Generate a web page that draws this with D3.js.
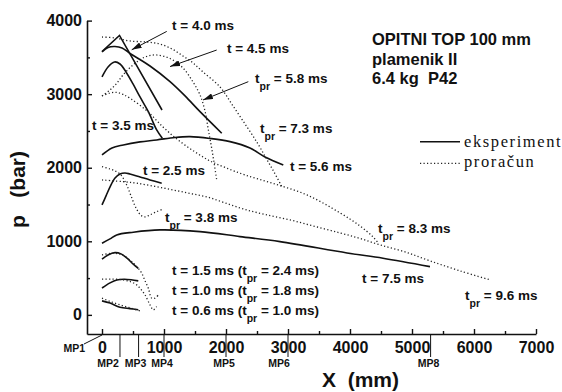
<!DOCTYPE html>
<html>
<head>
<meta charset="utf-8">
<script src="https://cdnjs.cloudflare.com/ajax/libs/d3/7.8.5/d3.min.js"></script>
<style>
  body { margin: 0; background: #fff; }
  svg text { font-family: "Liberation Sans", Arial, sans-serif; font-weight: bold; fill: #111; }
  .lbl { font-size: 13.5px; }
  .axis text { font-size: 16px; }
  .mp { font-size: 10.5px; }
  .legend text { font-family: "Liberation Serif", "Times New Roman", serif; font-weight: normal; font-size: 16.5px; letter-spacing: 1.6px; }
</style>
</head>
<body>
<div id="my_chart"></div>
<script>
// pressure p (bar) along the barrel X (mm)
// eksperiment (measured)
var eksp_06 = [[0,190],[130,160],[290,105],[450,85],[585,70]];
var eksp_10 = [[0,365],[130,435],[240,475],[355,485],[470,478],[585,462]];
var eksp_15 = [[0,757],[97,815],[210,846],[306,829],[403,770],[500,693],[585,632]];
var eksp_25 = [[0,1495],[65,1617],[130,1740],[210,1860],[290,1916],[370,1929],[450,1916],[613,1875],[774,1834],[963,1789]];
var eksp_35 = [[0,3234],[97,3370],[202,3438],[290,3410],[387,3302],[500,3139],[613,2962],[747,2762],[882,2514],[973,2401]];
var eksp_40 = [[0,3580],[282,3798],[968,2785]];
var eksp_45 = [[0,3573],[97,3635],[210,3648],[323,3628],[452,3553],[774,3383],[1097,3170],[1339,2976],[1581,2762],[1931,2469]];
var eksp_56 = [[0,2174],[161,2269],[344,2310],[613,2351],[882,2378],[1177,2412],[1419,2423],[1742,2398],[2065,2355],[2387,2269],[2629,2147],[2924,2038]];
var eksp_75 = [[0,974],[129,1033],[237,1087],[505,1124],[935,1155],[1581,1132],[2226,1064],[2871,996],[3952,842],[4532,770],[5290,656]];

// proracun (computed)
var pror_10 = [[0,227],[129,183],[290,136],[452,95],[613,54]];
var pror_18 = [[0,485],[161,486],[344,476],[468,448],[560,408],[629,346],[694,272],[774,136],[827,68],[882,113]];
var pror_24 = [[0,815],[182,838],[323,815],[479,724],[565,652],[640,567],[694,462],[747,363],[802,227],[855,227],[908,272]];
var pror_38 = [[0,2015],[129,1984],[226,1950],[306,1902],[398,1766],[468,1617],[548,1454],[629,1352],[694,1332],[774,1359],[871,1399],[968,1433]];
var pror_58 = [[0,2976],[129,3057],[242,3152],[339,3261],[500,3397],[694,3505],[871,3533],[1097,3485],[1306,3356],[1468,3166],[1581,2989],[1661,2772],[1718,2500],[1774,2242],[1850,1834]];
var pror_73 = [[0,3777],[210,3764],[452,3723],[726,3709],[935,3682],[1129,3614],[1306,3519],[1468,3424],[1629,3302],[1903,3098],[2113,2840],[2339,2554],[2516,2323],[2645,2133],[2774,1943],[2903,1739]];
var pror_83 = [[0,2976],[129,3016],[242,3023],[339,2996],[468,2935],[726,2772],[984,2554],[1226,2378],[1500,2215],[1742,2092],[1984,2004],[2306,1902],[2758,1787],[3306,1630],[3839,1386],[4161,1209],[4371,1060],[4460,971]];
var pror_96 = [[0,1834],[339,1811],[565,1789],[855,1746],[1145,1698],[1419,1651],[1694,1603],[1984,1522],[2306,1433],[2629,1365],[3032,1291],[3435,1202],[3839,1114],[4161,1039],[4484,951],[4887,856],[5290,734],[5774,598],[6258,476]];

var xTicks = [0, 1000, 2000, 3000, 4000, 5000, 6000, 7000];
var xMinor = [500, 1500, 2500, 3500, 4500, 5500, 6500];
var yTicks = [0, 1000, 2000, 3000, 4000];
var yMinor = [500, 1500, 2500, 3500];

// measuring points on the barrel
var mpNames = ["MP1", "MP2", "MP3", "MP4", "MP5", "MP6", "MP8"];
var mpPos = [0, 290, 590, 1000, 2000, 3000, 5300];

var margin = { top: 20.6, right: 26, bottom: 58, left: 87 },
  width = 562 - margin.left - margin.right,
  height = 392 - margin.top - margin.bottom;

var root = d3
  .select("#my_chart")
  .append("svg")
  .attr("width", 562)
  .attr("height", 392);

var svg = root
  .append("g")
  .attr("transform", "translate(" + margin.left + "," + margin.top + ")");

var x = d3.scaleLinear().domain([-242, 7000]).range([0, width]);
var y = d3.scaleLinear().domain([-260, 4000]).range([height, 0]);
var fmt = d3.format("d");

// arrow head for the label pointers
root
  .append("defs")
  .append("marker")
  .attr("id", "head")
  .attr("viewBox", "0 0 10 6")
  .attr("refX", 10)
  .attr("refY", 3)
  .attr("markerWidth", 10)
  .attr("markerHeight", 6)
  .attr("markerUnits", "userSpaceOnUse")
  .attr("orient", "auto")
  .append("path")
  .attr("d", "M0,0L10,3L0,6Z")
  .attr("fill", "#111");

// X axis, ticks pointing inwards
var gx = svg
  .append("g")
  .attr("class", "axis")
  .attr("transform", "translate(0," + height + ")")
  .call(d3.axisBottom(x).tickValues(xTicks).tickFormat(fmt).tickSizeInner(-5).tickSizeOuter(0).tickPadding(8));
svg
  .append("g")
  .attr("transform", "translate(0," + height + ")")
  .call(d3.axisBottom(x).tickValues(xMinor).tickSize(-3).tickFormat(""))
  .select(".domain")
  .remove();

// Y axis
var gy = svg
  .append("g")
  .attr("class", "axis")
  .call(d3.axisLeft(y).tickValues(yTicks).tickFormat(fmt).tickSizeInner(-5).tickSizeOuter(0).tickPadding(5));
svg
  .append("g")
  .call(d3.axisLeft(y).tickValues(yMinor).tickSize(-3).tickFormat(""))
  .select(".domain")
  .remove();

svg.selectAll(".domain").attr("stroke", "#111").attr("stroke-width", 1.6);
svg.selectAll(".tick line").attr("stroke", "#111").attr("stroke-width", 1.4);

// curves
var smooth = d3
  .line()
  .x(function (d) { return x(d[0]); })
  .y(function (d) { return y(d[1]); })
  .curve(d3.curveCatmullRom.alpha(0.5));
var straight = d3
  .line()
  .x(function (d) { return x(d[0]); })
  .y(function (d) { return y(d[1]); });

var measured = [eksp_06, eksp_10, eksp_15, eksp_25, eksp_35, eksp_45, eksp_56, eksp_75];
var computed = [pror_10, pror_18, pror_24, pror_38, pror_58, pror_73, pror_83, pror_96];

svg
  .selectAll(".eksp")
  .data(measured)
  .enter()
  .append("path")
  .attr("class", "eksp")
  .attr("d", smooth)
  .attr("fill", "none")
  .attr("stroke", "#111")
  .attr("stroke-width", 1.6);

svg
  .append("path")
  .datum(eksp_40)
  .attr("d", straight)
  .attr("fill", "none")
  .attr("stroke", "#111")
  .attr("stroke-width", 1.6);

svg
  .selectAll(".pror")
  .data(computed)
  .enter()
  .append("path")
  .attr("class", "pror")
  .attr("d", smooth)
  .attr("fill", "none")
  .attr("stroke", "#222")
  .attr("stroke-width", 1.3)
  .attr("stroke-dasharray", "1.2,2.3");

// curve labels, "_" marks the pr subscript
var labels = [
  { x: 1129, y: 3871, parts: ["t = 4.0 ms"] },
  { x: 2016, y: 3559, parts: ["t = 4.5 ms"] },
  { x: 2468, y: 3152, parts: ["t", "_pr", " = 5.8 ms"] },
  { x: 2548, y: 2473, parts: ["t", "_pr", " = 7.3 ms"] },
  { x: -161, y: 2514, parts: ["t = 3.5 ms"] },
  { x: 3032, y: 1957, parts: ["t = 5.6 ms"] },
  { x: 661, y: 1902, parts: ["t = 2.5 ms"] },
  { x: 1016, y: 1264, parts: ["t", "_pr", " = 3.8 ms"] },
  { x: 4452, y: 1114, parts: ["t", "_pr", " = 8.3 ms"] },
  { x: 4194, y: 435, parts: ["t = 7.5 ms"] },
  { x: 5855, y: 204, parts: ["t", "_pr", " = 9.6 ms"] },
  { x: 1129, y: 543, parts: ["t = 1.5 ms (t", "_pr", " = 2.4 ms)"] },
  { x: 1129, y: 272, parts: ["t = 1.0 ms (t", "_pr", " = 1.8 ms)"] },
  { x: 1129, y: 0, parts: ["t = 0.6 ms (t", "_pr", " = 1.0 ms)"] }
];

labels.forEach(function (d) {
  var t = svg.append("text").attr("class", "lbl").attr("x", x(d.x)).attr("y", y(d.y));
  var down = false;
  d.parts.forEach(function (p) {
    var sub = p.charAt(0) == "_";
    var s = t.append("tspan").text(sub ? p.slice(1) : p);
    if (sub) {
      s.attr("dy", 7).attr("font-size", 10.5);
      down = true;
    } else if (down) {
      s.attr("dy", -7);
      down = false;
    }
  });
});

// pointers from labels to curves
var arrows = [
  [1044, 3853, 479, 3603],
  [1850, 3600, 1097, 3375],
  [2360, 3170, 1629, 2921]
];
svg
  .selectAll(".arrow")
  .data(arrows)
  .enter()
  .append("line")
  .attr("x1", function (d) { return x(d[0]); })
  .attr("y1", function (d) { return y(d[1]); })
  .attr("x2", function (d) { return x(d[2]); })
  .attr("y2", function (d) { return y(d[3]); })
  .attr("stroke", "#111")
  .attr("stroke-width", 1)
  .attr("marker-end", "url(#head)");

// measuring point marks under the axis
var mpShift = [0, -12, -3, -2, -2, -9, -2];
mpPos.forEach(function (p, i) {
  if (i == 0) {
    svg
      .append("line")
      .attr("x1", x(p) - 18)
      .attr("y1", height + 10)
      .attr("x2", x(p))
      .attr("y2", height + 1)
      .attr("stroke", "#111")
      .attr("stroke-width", 1);
    svg
      .append("text")
      .attr("class", "mp")
      .attr("x", x(p) - 17)
      .attr("y", height + 18)
      .attr("text-anchor", "end")
      .text(mpNames[i]);
    return;
  }
  svg
    .append("line")
    .attr("x1", x(p))
    .attr("x2", x(p))
    .attr("y1", height)
    .attr("y2", height + 23)
    .attr("stroke", "#111")
    .attr("stroke-width", 1);
  svg
    .append("text")
    .attr("class", "mp")
    .attr("x", x(p) + mpShift[i])
    .attr("y", height + 33)
    .attr("text-anchor", "middle")
    .text(mpNames[i]);
});

// axis titles
root
  .append("text")
  .attr("x", 322)
  .attr("y", 387)
  .style("font-size", "21px")
  .style("white-space", "pre")
  .text("X  (mm)");
root
  .append("text")
  .attr("transform", "translate(25,228) rotate(-90)")
  .style("font-size", "21px")
  .style("white-space", "pre")
  .text("p   (bar)");

// title block
var title = ["OPITNI TOP 100 mm", "plamenik II", "6.4 kg  P42"];
var titleY = [45, 64.5, 84];
title.forEach(function (s, i) {
  root
    .append("text")
    .attr("x", 372)
    .attr("y", titleY[i])
    .style("font-size", "16.5px")
    .style("white-space", "pre")
    .text(s);
});

// legend
var legend = root.append("g").attr("class", "legend");
legend.append("line").attr("x1", 420).attr("x2", 460).attr("y1", 141.7).attr("y2", 141.7)
  .attr("stroke", "#111").attr("stroke-width", 1.4);
legend.append("line").attr("x1", 420).attr("x2", 460).attr("y1", 163.3).attr("y2", 163.3)
  .attr("stroke", "#222").attr("stroke-width", 1.2).attr("stroke-dasharray", "1.2,2.3");
legend.append("text").attr("x", 464).attr("y", 146.5).text("eksperiment");
legend.append("text").attr("x", 464).attr("y", 166.5).text("proračun");
</script>
</body>
</html>
